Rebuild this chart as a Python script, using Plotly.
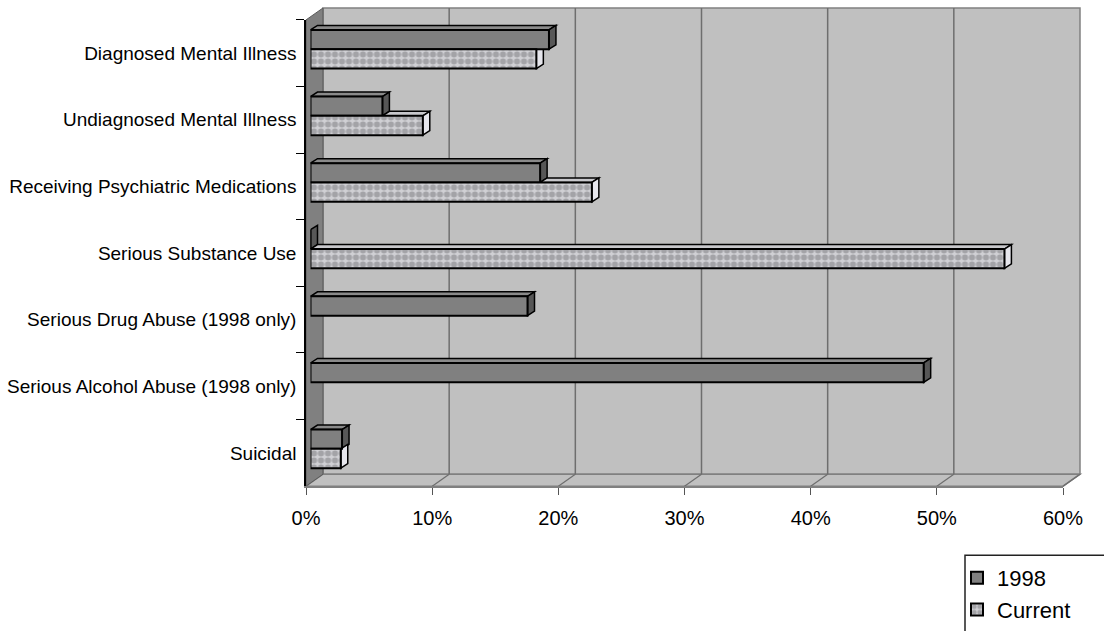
import plotly.graph_objects as go

# ---- data -------------------------------------------------------------
categories = [
    "Diagnosed Mental Illness",
    "Undiagnosed Mental Illness",
    "Receiving Psychiatric Medications",
    "Serious Substance Use",
    "Serious Drug Abuse (1998 only)",
    "Serious Alcohol Abuse (1998 only)",
    "Suicidal",
]
pct_1998 = [18.9, 5.7, 18.2, 0.0, 17.2, 48.6, 2.5]
pct_current = [17.9, 8.9, 22.3, 55.0, None, None, 2.4]
x_ticks = [0, 10, 20, 30, 40, 50, 60]
x_tick_text = [f"{v}%" for v in x_ticks]

# ---- geometry of the pseudo-3D frame (pixels) ---------------------------
W, H = 1104, 631
FRONT_L, FRONT_R = 306.0, 1063.0     # front edge of the floor (0% .. 60%)
FRONT_T, FRONT_B = 20.0, 487.7       # front edge of the category axis
WALL_DX, WALL_DY = 17.0, 12.0        # depth of the walls
PLANE_DX, PLANE_DY = 4.5, 4.0        # depth at which the bar fronts sit
BAR_DX, BAR_DY = 7.0, 4.5            # visible depth of each bar
X_MAX = x_ticks[-1]
BAR_W = 0.29


def px(x):
    return x / W


def py(y):
    return 1 - y / H


x_scale = (FRONT_R - FRONT_L) / X_MAX                    # pixels per percent
cat_px = (FRONT_B - FRONT_T) / len(categories)           # pixels per category
ddx = BAR_DX / x_scale                                   # bar depth in data units
ddy = BAR_DY / cat_px

FONT = "Liberation Sans, Arial, sans-serif"

fig = go.Figure()

# invisible trace that carries the category labels of the front axis
fig.add_trace(go.Scatter(
    x=[0] * len(categories), y=categories, xaxis="x2", yaxis="y2",
    mode="markers", marker=dict(opacity=0), showlegend=False, hoverinfo="skip",
))

fig.add_trace(go.Bar(
    name="1998", y=categories, x=pct_1998, orientation="h",
    width=BAR_W, offset=-BAR_W,
    marker=dict(color="#808080", line=dict(color="black", width=2)),
))
fig.add_trace(go.Bar(
    name="Current", y=categories, x=pct_current, orientation="h",
    width=BAR_W, offset=0,
    marker=dict(
        color="#c0c0c4",
        pattern=dict(shape=".", fgcolor="#76767a", bgcolor="#d0d0d4",
                     size=7, solidity=0.6),
        line=dict(color="black", width=2),
    ),
))

shapes = []


def paper_path(points, fill, line_color, width=1.0):
    d = "M " + " L ".join(f"{px(x):.5f},{py(y):.5f}" for x, y in points) + " Z"
    return dict(type="path", path=d, xref="paper", yref="paper", layer="below",
                fillcolor=fill, line=dict(color=line_color, width=width))


def paper_line(x0, y0, x1, y1, color, width):
    return dict(type="line", xref="paper", yref="paper", layer="below",
                x0=px(x0), y0=py(y0), x1=px(x1), y1=py(y1),
                line=dict(color=color, width=width))


back_l = FRONT_L + WALL_DX
back_r = FRONT_R + WALL_DX
back_t = FRONT_T - WALL_DY
back_b = FRONT_B - WALL_DY

# back wall
shapes.append(paper_path([(back_l, back_t), (back_r, back_t), (back_r, back_b), (back_l, back_b)],
                         "#c0c0c0", "#808080", 1.5))
# floor
shapes.append(paper_path([(FRONT_L, FRONT_B), (FRONT_R, FRONT_B), (back_r, back_b), (back_l, back_b)],
                         "#c0c0c0", "#808080", 1.5))
# grid lines on the back wall and their continuation across the floor
for v in x_ticks:
    xb = back_l + v * x_scale
    xf = FRONT_L + v * x_scale
    if 0 < v < X_MAX:
        shapes.append(paper_line(xb, back_t, xb, back_b, "#6e6e6e", 1.5))
    if v > 0:
        shapes.append(paper_line(xb, back_b, xf, FRONT_B, "#6e6e6e", 1.2))
# left side wall
shapes.append(paper_path([(FRONT_L, FRONT_T), (back_l, back_t), (back_l, back_b), (FRONT_L, FRONT_B)],
                         "#808080", "#5a5a5a", 1.0))


def data_path(points, fill, width=1.5):
    d = "M " + " L ".join(f"{x:.4f},{y:.4f}" for x, y in points) + " Z"
    return dict(type="path", path=d, xref="x", yref="y", layer="below",
                fillcolor=fill, line=dict(color="black", width=width))


# top and end faces of the bars
for i, (a, c) in enumerate(zip(pct_1998, pct_current)):
    if a is not None:
        y0 = i - BAR_W
        if a > 0:
            shapes.append(data_path([(0, y0), (a, y0), (a + ddx, y0 - ddy), (ddx, y0 - ddy)], "#8a8a8a"))
        shapes.append(data_path([(a, y0), (a + ddx, y0 - ddy), (a + ddx, i - ddy), (a, i)], "#575757"))
    if c is not None:
        start = a if a is not None else 0
        if c > start:
            shapes.append(data_path([(start, i), (c, i), (c + ddx, i - ddy), (start + ddx, i - ddy)], "#c8c8cc"))
        shapes.append(data_path([(c, i), (c + ddx, i - ddy), (c + ddx, i + BAR_W - ddy), (c, i + BAR_W)], "#e6e6ec"))

# legend frame (runs off the right and bottom edges)
LEG_L, LEG_T = 965.0, 557.0
shapes.append(dict(type="rect", xref="paper", yref="paper", layer="below",
                   x0=px(LEG_L), y0=py(LEG_T), x1=px(W + 20), y1=py(H + 20),
                   fillcolor="rgba(0,0,0,0)", line=dict(color="#222222", width=1.5)))

fig.update_layout(
    width=W, height=H, autosize=False,
    margin=dict(l=0, r=0, t=0, b=0),
    paper_bgcolor="white", plot_bgcolor="rgba(0,0,0,0)",
    font=dict(family=FONT, color="black", size=19),
    barmode="overlay",
    shapes=shapes,
    showlegend=True,
    legend=dict(
        x=px(LEG_L - 8), y=py(LEG_T + 2), xanchor="left", yanchor="top",
        bgcolor="rgba(0,0,0,0)", borderwidth=0, font=dict(size=22),
        traceorder="normal", itemwidth=30,
    ),
    # axes carrying the bars (plane of the bar fronts)
    xaxis=dict(domain=[px(FRONT_L + PLANE_DX), px(FRONT_R + PLANE_DX)],
               range=[0, X_MAX], visible=False, fixedrange=True),
    yaxis=dict(domain=[py(FRONT_B - PLANE_DY), py(FRONT_T - PLANE_DY)],
               type="category", categoryorder="array", categoryarray=categories,
               range=[len(categories) - 0.5, -0.5], visible=False, fixedrange=True),
    # front axes with ticks and labels
    xaxis2=dict(domain=[px(FRONT_L), px(FRONT_R)], anchor="y2",
                range=[0, X_MAX], tickmode="array", tickvals=x_ticks, ticktext=x_tick_text,
                ticks="outside", ticklen=7, tickcolor="#555555", tickwidth=1.2,
                ticklabelstandoff=6,
                showline=True, linecolor="#808080", linewidth=1.5,
                showgrid=False, zeroline=False, tickfont=dict(size=20),
                fixedrange=True, automargin=False),
    yaxis2=dict(domain=[py(FRONT_B), py(FRONT_T)], anchor="x2",
                type="category", categoryorder="array", categoryarray=categories,
                range=[len(categories) - 0.5, -0.5], tickson="boundaries",
                ticks="outside", ticklen=8, tickcolor="black", tickwidth=1.2,
                ticklabelstandoff=4,
                showline=True, linecolor="black", linewidth=1.5,
                showgrid=False, zeroline=False, tickfont=dict(size=19),
                fixedrange=True, automargin=False),
)

fig.write_html("out.html")
